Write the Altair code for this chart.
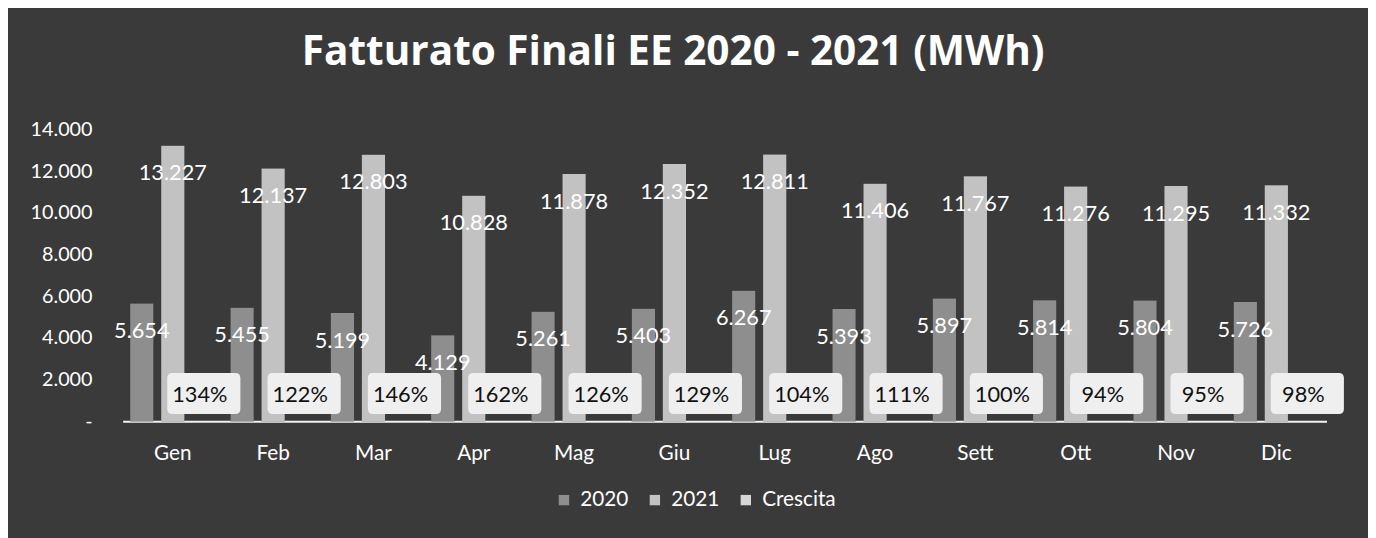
import altair as alt
import pandas as pd

mesi = ["Gen", "Feb", "Mar", "Apr", "Mag", "Giu", "Lug", "Ago", "Sett", "Ott", "Nov", "Dic"]
serie = ["2020", "2021", "Crescita"]
v2020 = [5654, 5455, 5199, 4129, 5261, 5403, 6267, 5393, 5897, 5814, 5804, 5726]
v2021 = [13227, 12137, 12803, 10828, 11878, 12352, 12811, 11406, 11767, 11276, 11295, 11332]
crescita = [1.34, 1.22, 1.46, 1.62, 1.26, 1.29, 1.04, 1.11, 1.00, 0.94, 0.95, 0.98]
y_ticks = [0, 2000, 4000, 6000, 8000, 10000, 12000, 14000]

rows = []
for i, m in enumerate(mesi):
    rows.append({"mese": m, "serie": "2020", "valore": v2020[i]})
    rows.append({"mese": m, "serie": "2021", "valore": v2021[i]})
    rows.append({"mese": m, "serie": "Crescita", "valore": crescita[i]})
df = pd.DataFrame(rows)

FONT = "Lato"
BG = "#3a3a3a"

x_enc = alt.X("mese:N", sort=mesi,
              scale=alt.Scale(paddingInner=0.15, paddingOuter=0.075),
              axis=alt.Axis(title=None, labelAngle=0, labelColor="white",
                            labelFontSize=21, labelFont=FONT, labelPadding=22,
                            ticks=False, domainColor="#f2f2f2", domainWidth=2))
xo_enc = alt.XOffset("serie:N", sort=serie, scale=alt.Scale(paddingInner=0.25))
y_enc = alt.Y("valore:Q", scale=alt.Scale(domain=[0, 14000]),
              axis=alt.Axis(title=None, values=y_ticks, format=",.0f",
                            labelExpr="datum.value == 0 ? '-' : datum.label",
                            labelColor="white", labelFontSize=20, labelFont=FONT,
                            labelPadding=31, domain=False, ticks=False, grid=False))

base = alt.Chart(df).encode(x=x_enc, xOffset=xo_enc, y=y_enc)

shadow = base.transform_filter("datum.serie != 'Crescita'").mark_bar(
    color="#141414", xOffset=5)

bars = base.mark_bar().encode(
    color=alt.Color("serie:N", sort=serie,
                    scale=alt.Scale(domain=serie, range=["#8e8e8e", "#c2c2c2", "#d6d6d6"]),
                    legend=alt.Legend(title=None, orient="none", direction="horizontal",
                                      legendX=436, legendY=364,
                                      symbolType="square", symbolSize=110,
                                      symbolStrokeWidth=0, labelColor="white",
                                      labelFontSize=21, labelFont=FONT,
                                      labelOffset=6, columnPadding=16))
)

labels = base.transform_filter("datum.serie != 'Crescita'").mark_text(
    color="white", fontSize=22, font=FONT, baseline="middle", dy=28
).encode(text=alt.Text("valore:Q", format=",.0f"))

box_path = ("M -0.86 -0.56 L 0.86 -0.56 Q 1 -0.56 1 -0.42 L 1 0.42 Q 1 0.56 0.86 0.56 "
            "L -0.86 0.56 Q -1 0.56 -1 0.42 L -1 -0.42 Q -1 -0.56 -0.86 -0.56 Z")
boxes = base.transform_filter("datum.serie == 'Crescita'").mark_point(
    shape=box_path, size=5476, filled=True, fill="#efefef", opacity=1,
    strokeWidth=0, yOffset=-28, xOffset=-4)

pct = base.transform_filter("datum.serie == 'Crescita'").mark_text(
    color="#111111", fontSize=22, font=FONT, baseline="middle", dy=-26, dx=-4
).encode(text=alt.Text("valore:Q", format=".0%"))

chart = alt.layer(shadow, bars, labels, boxes, pct).properties(
    width=1218, height=295,
    title=alt.TitleParams("Fatturato Finali EE 2020 - 2021 (MWh)", color="white",
                          fontSize=41, font="Open Sans", fontWeight="bold",
                          anchor="middle", offset=46, dx=-52),
    padding={"left": 22, "right": 24, "top": 22, "bottom": 30},
    background=BG,
).configure(
    view=alt.ViewConfig(stroke=None),
    locale={"number": {"decimal": ",", "thousands": ".", "grouping": [3],
                       "currency": ["", " €"]}}
)

chart.save("out.html", embed_options={"renderer": "svg", "actions": False})
